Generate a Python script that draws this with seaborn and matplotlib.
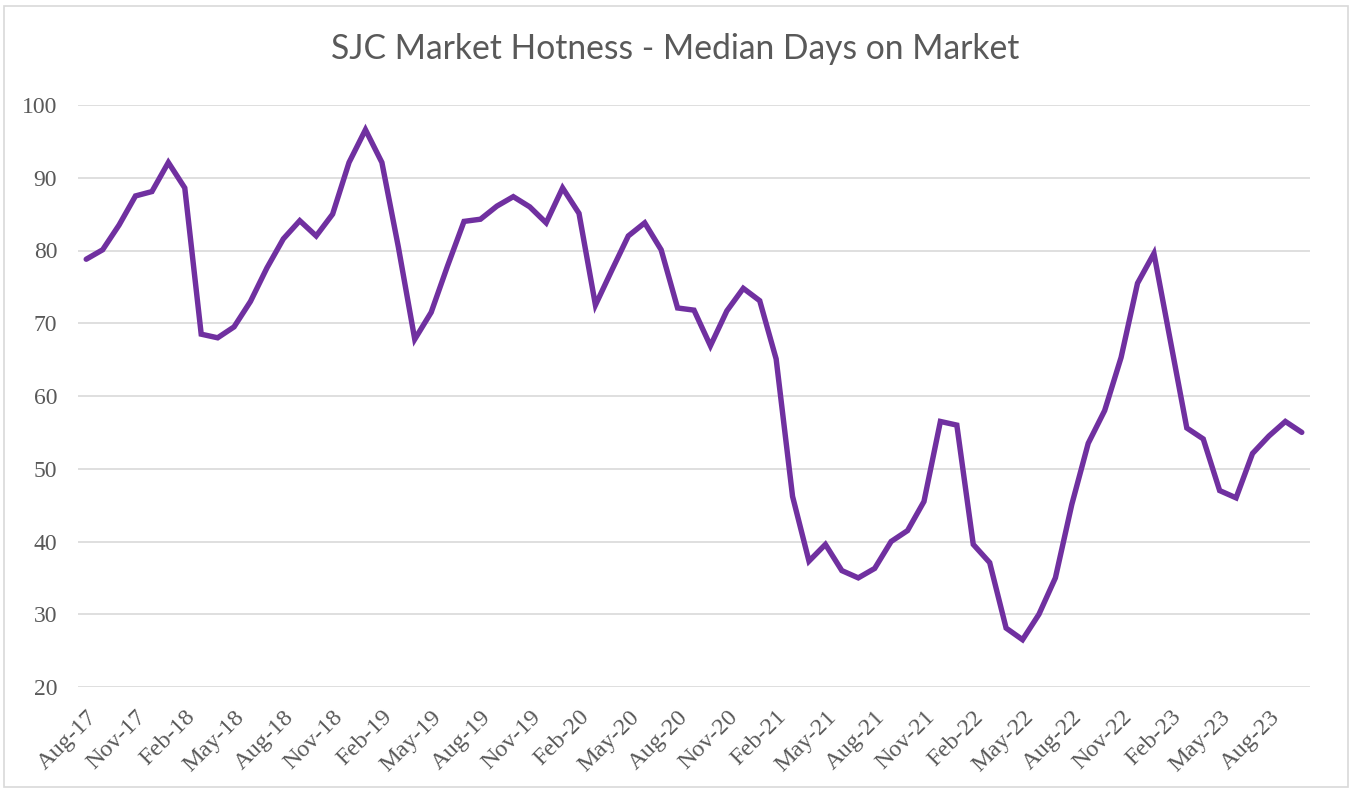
import numpy as np
import pandas as pd
import matplotlib
matplotlib.use("Agg")
import matplotlib.pyplot as plt
import seaborn as sns
from matplotlib.patches import Rectangle

# monthly median days on market, Aug-17 .. Oct-23
start_month = "2017-08-01"
days_on_market = [
    78.8, 80.1, 83.5, 87.5, 88.1, 92.1, 88.6, 68.5, 68.0, 69.5,
    73.0, 77.6, 81.6, 84.1, 82.0, 85.0, 92.1, 96.6, 92.1, 80.5,
    67.8, 71.5, 77.9, 84.0, 84.3, 86.1, 87.4, 86.0, 83.8, 88.6,
    85.1, 72.5, 77.3, 82.0, 83.8, 80.1, 72.1, 71.8, 66.9, 71.7,
    74.8, 73.1, 65.1, 46.2, 37.3, 39.6, 36.0, 35.0, 36.3, 40.0,
    41.5, 45.5, 56.5, 56.0, 39.6, 37.1, 28.1, 26.5, 30.0, 35.0,
    45.1, 53.5, 58.0, 65.3, 75.5, 79.6, 67.6, 55.6, 54.1, 47.0,
    46.0, 52.1, 54.5, 56.5, 55.0,
]
y_ticks = [20, 30, 40, 50, 60, 70, 80, 90, 100]
title = "SJC Market Hotness - Median Days on Market"

months = pd.date_range(start_month, periods=len(days_on_market), freq="MS")
df = pd.DataFrame({
    "pos": np.arange(len(days_on_market)),
    "label": months.strftime("%b-%y"),
    "days": days_on_market,
})

sns.set_style("white")
plt.rcParams["font.family"] = ["Liberation Serif", "DejaVu Serif"]

grey_text = "#595959"
purple = "#7030A0"

fig = plt.figure(figsize=(13.51, 7.89), dpi=100)
ax = fig.add_axes([78 / 1351, 1 - 687 / 789, (1310 - 78) / 1351, (687 - 105) / 789])

sns.lineplot(data=df, x="pos", y="days", ax=ax, color=purple, linewidth=3.9,
             solid_joinstyle="miter")

ax.set_xlim(-0.5, len(df) - 0.5)
ax.set_ylim(20, 100)
ax.set_yticks(y_ticks)
ax.yaxis.grid(True, color="#D9D9D9", linewidth=1.2)
ax.xaxis.grid(False)
ax.set_axisbelow(True)
for s in ax.spines.values():
    s.set_visible(False)

tick_pos = df["pos"].iloc[::3]
ax.set_xticks(tick_pos)
ax.set_xticklabels(df["label"].iloc[::3], rotation=45, ha="right", va="top",
                   rotation_mode="anchor")
ax.tick_params(axis="x", length=0, pad=14, labelsize=17.5, labelcolor=grey_text)
ax.tick_params(axis="y", length=0, pad=15, labelsize=17, labelcolor=grey_text)
ax.set_xlabel("")
ax.set_ylabel("")

fig.text(0.5, 1 - 49 / 789, title, ha="center", va="center", fontsize=24.2,
         color=grey_text, family=["Lato", "DejaVu Sans"])

fig.patches.append(Rectangle((4 / 1351, 2 / 789), 1344 / 1351, 781 / 789,
                             transform=fig.transFigure, fill=False,
                             edgecolor="#D9D9D9", linewidth=1.2))

fig.savefig("out.png", dpi=100)
